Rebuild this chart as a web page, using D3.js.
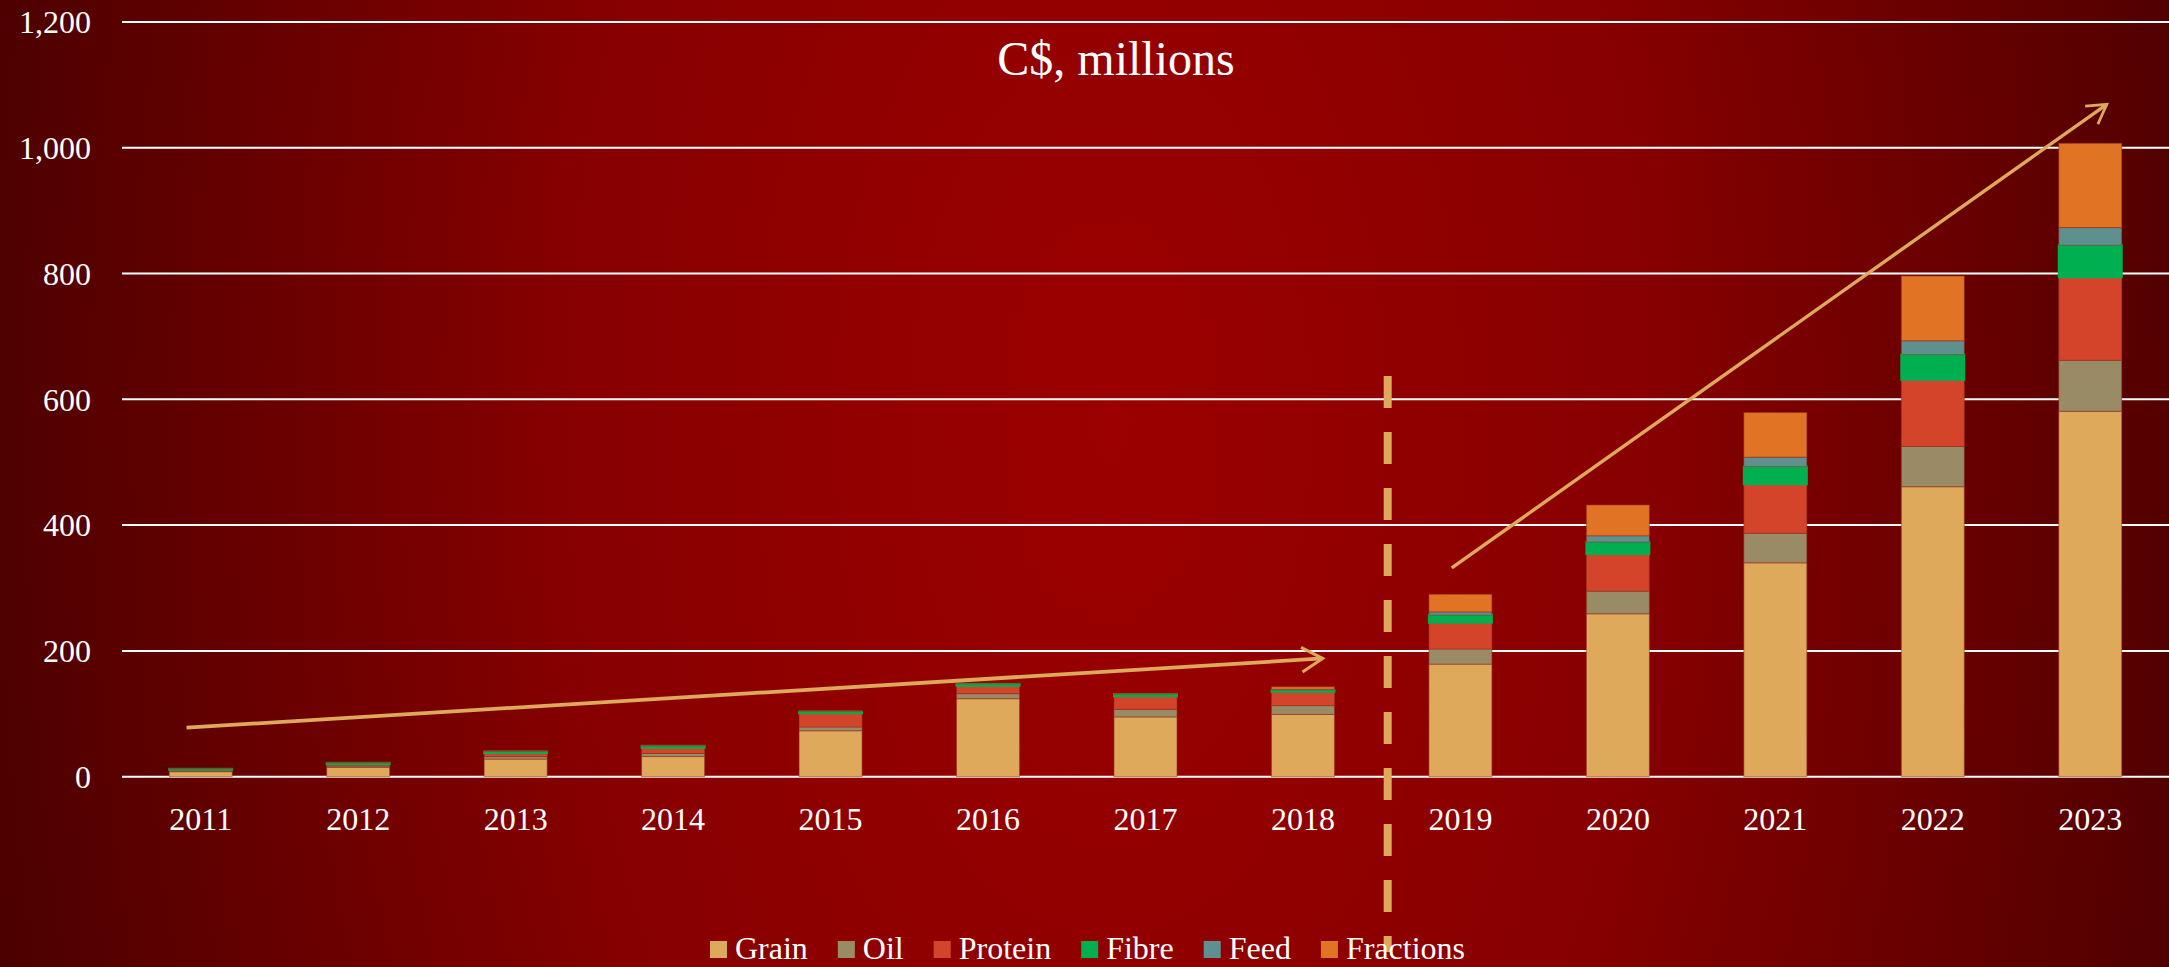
<!DOCTYPE html>
<html>
<head>
<meta charset="utf-8">
<script src="https://cdn.jsdelivr.net/npm/d3@7"></script>
<style>
  html, body { margin: 0; padding: 0; background: #4a0000; overflow: hidden; }
  svg { display: block; }
  text { font-family: "Liberation Serif", "DejaVu Serif", serif; fill: #ffffff; }
</style>
</head>
<body>
<script>
// ---------- DATA ----------
const years = ["2011","2012","2013","2014","2015","2016","2017","2018","2019","2020","2021","2022","2023"];
const seriesNames = ["Grain","Oil","Protein","Fibre","Feed","Fractions"];
const grain     = [8, 15, 28, 32, 73, 124, 95, 99, 179, 259, 340, 461, 581];
const oil       = [1.5, 2, 4, 5, 6, 8, 12, 14, 24, 36, 47, 64, 81];
const protein   = [1.5, 3, 5.5, 9, 22, 12.5, 21, 22, 42, 59, 78, 106, 132];
const fibre     = [1.5, 2, 2.5, 3, 2.5, 3, 3.5, 3, 12, 19, 28, 40, 51];
const feed      = [0.3, 0.5, 0.5, 0.5, 0.5, 0.5, 0.5, 1, 5, 10, 15, 22, 28];
const fractions = [0.2, 0.3, 0.5, 0.5, 0.5, 0, 0.5, 4, 28, 49, 71, 103, 134];
const yTicks = [0, 200, 400, 600, 800, 1000, 1200];
const titleText = "C$, millions";
// trend arrows: [category, offset in steps, value]
const arrow1 = [["2011", -0.09, 78], ["2018", 0.125, 188]];
const arrow2 = [["2019", -0.055, 332], ["2023", 0.105, 1069]];

const colors = {
  Grain: "#DEA95B", Oil: "#998B66", Protein: "#D4442A",
  Fibre: "#00B050", Feed: "#5F9090", Fractions: "#E07424"
};
const accent = "#DEA95B";

// ---------- LAYOUT ----------
const W = 2169, H = 967;
const margin = { left: 122, right: 0 };
const y0 = 776.7, yTop = 21.9;

const svg = d3.select("body").append("svg").attr("width", W).attr("height", H);

// background gradient
const defs = svg.append("defs");
const grad = defs.append("radialGradient")
  .attr("id", "bg").attr("gradientUnits", "userSpaceOnUse")
  .attr("cx", 0).attr("cy", 0).attr("r", 1)
  .attr("gradientTransform", "translate(1110,420) scale(1180,2200)");
grad.append("stop").attr("offset", 0).attr("stop-color", "#9c0000");
grad.append("stop").attr("offset", 0.45).attr("stop-color", "#880000");
grad.append("stop").attr("offset", 1).attr("stop-color", "#480000");
svg.append("rect").attr("width", W).attr("height", H).attr("fill", "url(#bg)");

// arrow marker (open chevron)
defs.append("marker").attr("id", "arrowhead")
  .attr("viewBox", "-13 -9 15 18").attr("refX", 0).attr("refY", 0)
  .attr("markerWidth", 7.5).attr("markerHeight", 9).attr("markerUnits", "strokeWidth")
  .attr("orient", "auto")
  .append("path").attr("d", "M-11,-6.5 L0,0 L-11,6.5")
  .attr("fill", "none").attr("stroke", accent).attr("stroke-width", 1.6)
  .attr("stroke-linecap", "butt").attr("stroke-linejoin", "miter");

const x = d3.scaleBand().domain(years).range([margin.left, W - margin.right])
  .paddingInner(0.6).paddingOuter(0.3);
const y = d3.scaleLinear().domain([0, 1200]).range([y0, yTop]);

// gridlines
svg.append("g").selectAll("line").data(yTicks).join("line")
  .attr("x1", margin.left).attr("x2", W)
  .attr("y1", d => y(d)).attr("y2", d => y(d))
  .attr("stroke", "#ffffff").attr("stroke-width", 2);

// y axis labels
const yAxis = d3.axisLeft(y).tickValues(yTicks).tickFormat(d3.format(",")).tickSize(0).tickPadding(31);
const gy = svg.append("g").attr("transform", `translate(${margin.left},0)`).call(yAxis);
gy.select(".domain").remove();
gy.selectAll("text").attr("font-size", 32).attr("fill", "#fff")
  .style("font-family", '"Liberation Serif", serif').attr("dy", "0.34em");

// x axis labels
const xAxis = d3.axisBottom(x).tickSize(0).tickPadding(30);
const gx = svg.append("g").attr("transform", `translate(0,${y0})`).call(xAxis);
gx.select(".domain").remove();
gx.selectAll("text").attr("font-size", 32).attr("fill", "#fff")
  .style("font-family", '"Liberation Serif", serif').attr("dy", "0.72em");

// stacked data
const table = years.map((yr, i) => ({
  year: yr, Grain: grain[i], Oil: oil[i], Protein: protein[i],
  Fibre: fibre[i], Feed: feed[i], Fractions: fractions[i]
}));
const stacked = d3.stack().keys(seriesNames)(table);

const layers = svg.append("g").selectAll("g").data(stacked).join("g")
  .attr("fill", d => colors[d.key])
  .attr("stroke", d => d.key === "Fibre" ? colors.Fibre : "rgba(150,50,30,0.55)")
  .attr("stroke-width", d => d.key === "Fibre" ? 2 : 1);
layers.selectAll("rect").data(d => d).join("rect")
  .attr("x", d => x(d.data.year))
  .attr("width", x.bandwidth())
  .attr("y", d => y(d[1]))
  .attr("height", d => Math.max(0, y(d[0]) - y(d[1])));

// dashed divider between 2018 and 2019
const divX = (x("2018") + x("2019") + x.bandwidth()) / 2 + 6;
svg.append("line")
  .attr("x1", divX).attr("x2", divX).attr("y1", 376).attr("y2", 952)
  .attr("stroke", accent).attr("stroke-width", 8)
  .attr("stroke-dasharray", "32,24");

// arrows
function ax(p) { return x(p[0]) + x.bandwidth() / 2 + p[1] * x.step(); }
[arrow1, arrow2].forEach((a, k) => {
  svg.append("line")
    .attr("x1", ax(a[0])).attr("y1", y(a[0][2]))
    .attr("x2", ax(a[1])).attr("y2", y(a[1][2]))
    .attr("stroke", accent).attr("stroke-width", k === 0 ? 3.8 : 3.4)
    .attr("marker-end", "url(#arrowhead)");
});

// title
svg.append("text").attr("x", 1116).attr("y", 75).attr("text-anchor", "middle")
  .attr("font-size", 48).text(titleText);

// legend
const legend = svg.append("g");
let lx = 0;
seriesNames.forEach(name => {
  const g = legend.append("g").attr("transform", `translate(${lx},0)`);
  g.append("rect").attr("x", 0).attr("y", 941).attr("width", 17).attr("height", 17)
    .attr("fill", colors[name]);
  const t = g.append("text").attr("x", 25).attr("y", 959).attr("font-size", 32).text(name);
  lx += 25 + t.node().getComputedTextLength() + 30;
});
const legW = lx - 30;
legend.attr("transform", `translate(${1087.5 - legW / 2},0)`);
</script>
</body>
</html>
